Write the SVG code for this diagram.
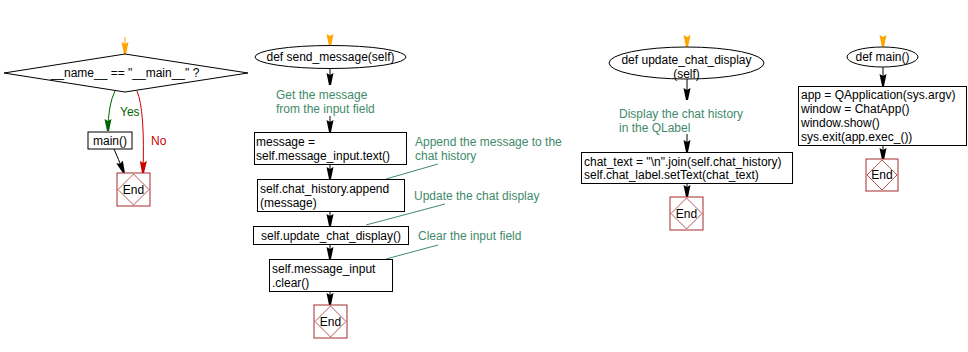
<svg xmlns="http://www.w3.org/2000/svg" width="968" height="352" viewBox="0 0 968 352">
<style>
text{font-family:"Liberation Sans",Arial,sans-serif;font-size:12px;fill:#000}
.c{fill:#3f8a6a}
.n{fill:#fff;stroke:#000;stroke-width:1}
.e{fill:#fff;stroke:#a52a2a;stroke-width:1}
.d{fill:none;stroke:#a52a2a;stroke-width:0.8}
.l{fill:none;stroke:#000;stroke-width:1}
.o{fill:none;stroke:#ffa500;stroke-width:1}
.g{fill:none;stroke:#006400;stroke-width:1}
.r{fill:none;stroke:#cc0000;stroke-width:1}
.ld{fill:none;stroke:#3f8a6a;stroke-width:1}
</style>
<defs>
<marker id="ab" viewBox="0 0 12 8" refX="12" refY="4" markerWidth="12" markerHeight="8" markerUnits="userSpaceOnUse" orient="auto"><path d="M0,0.5 L12,3 L12,5 L0,7.5 L2,4 z" fill="#000"/></marker>
<marker id="ao" viewBox="0 0 12 8" refX="12" refY="4" markerWidth="12" markerHeight="8" markerUnits="userSpaceOnUse" orient="auto"><path d="M0,0.5 L12,3 L12,5 L0,7.5 L2,4 z" fill="#ffa500"/></marker>
<marker id="ag" viewBox="0 0 12 8" refX="12" refY="4" markerWidth="12" markerHeight="8" markerUnits="userSpaceOnUse" orient="auto"><path d="M0,0.5 L12,3 L12,5 L0,7.5 L2,4 z" fill="#006400"/></marker>
<marker id="ar" viewBox="0 0 12 8" refX="12" refY="4" markerWidth="12" markerHeight="8" markerUnits="userSpaceOnUse" orient="auto"><path d="M0,0.5 L12,3 L12,5 L0,7.5 L2,4 z" fill="#cc0000"/></marker>
</defs>
<g id="connectors">
<line class="o" x1="125" y1="37" x2="125" y2="54" marker-end="url(#ao)"/>
<path class="g" d="M115,91 Q108,105 108,131" marker-end="url(#ag)"/>
<path class="r" d="M137,91 Q145,110 143,173" marker-end="url(#ar)"/>
<path class="l" d="M114,149 Q118,158 124,173" marker-end="url(#ab)"/>
<line class="o" x1="330" y1="37" x2="330" y2="46" marker-end="url(#ao)"/>
<line class="l" x1="330" y1="68" x2="330" y2="85" marker-end="url(#ab)"/>
<line class="l" x1="330" y1="116" x2="330" y2="132" marker-end="url(#ab)"/>
<line class="l" x1="330" y1="164" x2="330" y2="179" marker-end="url(#ab)"/>
<line class="l" x1="330" y1="211" x2="330" y2="226" marker-end="url(#ab)"/>
<line class="l" x1="330" y1="244" x2="330" y2="259" marker-end="url(#ab)"/>
<line class="l" x1="330" y1="291" x2="330" y2="305" marker-end="url(#ab)"/>
<line class="ld" x1="386" y1="179" x2="438" y2="164"/>
<line class="ld" x1="366" y1="225" x2="445" y2="204"/>
<line class="ld" x1="386" y1="259" x2="438" y2="245"/>
<line class="o" x1="687" y1="37" x2="687" y2="47" marker-end="url(#ao)"/>
<line class="l" x1="687" y1="79" x2="687" y2="100" marker-end="url(#ab)"/>
<line class="l" x1="687" y1="134" x2="687" y2="152" marker-end="url(#ab)"/>
<line class="l" x1="687" y1="183" x2="687" y2="197" marker-end="url(#ab)"/>
<line class="o" x1="883" y1="37" x2="883" y2="47" marker-end="url(#ao)"/>
<line class="l" x1="883" y1="67" x2="883" y2="86" marker-end="url(#ab)"/>
<line class="l" x1="883" y1="145" x2="883" y2="160" marker-end="url(#ab)"/>
</g>
<g id="n_if">
<polygon class="n" points="125,54 248,73 125,92 4,73"/>
<text x="125" y="77" text-anchor="middle">__name__ == "__main__" ?</text>
</g>
<text x="120" y="116" style="fill:#006400">Yes</text>
<text x="151" y="145" style="fill:#cc0000">No</text>
<g id="n_main_call">
<rect class="n" x="88" y="132" width="44" height="17"/>
<text x="110" y="145" text-anchor="middle">main()</text>
</g>
<g id="n_end1">
<rect class="e" x="117" y="173" width="33" height="33"/>
<polygon class="d" points="133.5,174 149,189.5 133.5,205 118,189.5"/>
<text x="133.5" y="194" text-anchor="middle">End</text>
</g>
<g id="n_send">
<ellipse class="n" cx="330.5" cy="57" rx="75.5" ry="11.5"/>
<text x="330.5" y="61" text-anchor="middle">def send_message(self)</text>
</g>
<g id="c_get">
<text class="c" x="276" y="99">Get the message</text>
<text class="c" x="276" y="113">from the input field</text>
</g>
<g id="n_msg">
<rect class="n" x="254.5" y="132.5" width="152" height="32"/>
<text x="256" y="146">message =</text>
<text x="256" y="160">self.message_input.text()</text>
</g>
<g id="c_append">
<text class="c" x="415" y="146">Append the message to the</text>
<text class="c" x="415" y="160">chat history</text>
</g>
<g id="n_append">
<rect class="n" x="257.5" y="179.5" width="147" height="32"/>
<text x="260" y="193">self.chat_history.append</text>
<text x="260" y="207">(message)</text>
</g>
<g id="c_update">
<text class="c" x="414" y="200">Update the chat display</text>
</g>
<g id="n_update">
<rect class="n" x="253.5" y="226.5" width="155" height="18"/>
<text x="331" y="240" text-anchor="middle">self.update_chat_display()</text>
</g>
<g id="c_clear">
<text class="c" x="418" y="240">Clear the input field</text>
</g>
<g id="n_clear">
<rect class="n" x="269.5" y="259.5" width="123" height="32"/>
<text x="272" y="273">self.message_input</text>
<text x="272" y="287">.clear()</text>
</g>
<g id="n_end2">
<rect class="e" x="314" y="305" width="33" height="33"/>
<polygon class="d" points="330.5,306 346,321.5 330.5,337 315,321.5"/>
<text x="330.5" y="326" text-anchor="middle">End</text>
</g>
<g id="n_ucd">
<ellipse class="n" cx="686.5" cy="63" rx="77.5" ry="16"/>
<text x="686.5" y="64" text-anchor="middle">def update_chat_display</text>
<text x="686.5" y="78" text-anchor="middle">(self)</text>
</g>
<g id="c_display">
<text class="c" x="619" y="118">Display the chat history</text>
<text class="c" x="619" y="132">in the QLabel</text>
</g>
<g id="n_chat_text">
<rect class="n" x="581.5" y="152.5" width="211" height="31"/>
<text x="584" y="166">chat_text = "\n".join(self.chat_history)</text>
<text x="584" y="179">self.chat_label.setText(chat_text)</text>
</g>
<g id="n_end3">
<rect class="e" x="670" y="197" width="33" height="33"/>
<polygon class="d" points="686.5,198 702,213.5 686.5,229 671,213.5"/>
<text x="686.5" y="218" text-anchor="middle">End</text>
</g>
<g id="n_mainfn">
<ellipse class="n" cx="882.5" cy="57" rx="35.5" ry="10"/>
<text x="882.5" y="61" text-anchor="middle">def main()</text>
</g>
<g id="n_main_body">
<rect class="n" x="798.5" y="86.5" width="168" height="59"/>
<text x="801" y="99">app = QApplication(sys.argv)</text>
<text x="801" y="113">window = ChatApp()</text>
<text x="801" y="127">window.show()</text>
<text x="801" y="141">sys.exit(app.exec_())</text>
</g>
<g id="n_end4">
<rect class="e" x="866" y="159" width="32" height="32"/>
<polygon class="d" points="882,160 897,175 882,190 867,175"/>
<text x="882" y="179" text-anchor="middle">End</text>
</g>
</svg>
